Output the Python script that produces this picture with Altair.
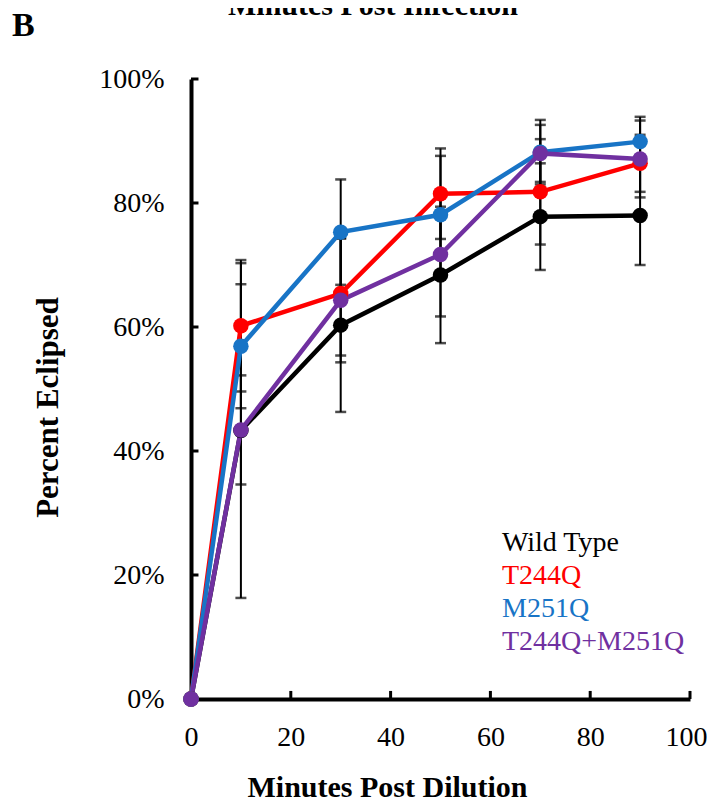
import altair as alt
import pandas as pd

# ---- data ----
minutes = [0, 10, 30, 50, 70, 90]
series_names = ["Wild Type", "T244Q", "M251Q", "T244Q+M251Q"]
series_colors = ["#000000", "#FF0000", "#1874C6", "#7030A0"]

wild_type = [0, 43.3, 60.3, 68.4, 77.8, 78.0]
wild_type_err = [0, 27.0, 14.0, 11.0, 8.6, 8.0]
t244q = [0, 60.2, 65.4, 81.5, 81.8, 86.4]
t244q_err = [0, 10.6, 10.0, 7.3, 8.5, 4.6]
m251q = [0, 56.9, 75.3, 78.1, 88.2, 89.9]
m251q_err = [0, 10.0, 8.5, 9.5, 5.2, 4.0]
double_mut = [0, 43.4, 64.3, 71.7, 88.0, 87.1]
double_mut_err = [0, 8.8, 10.0, 10.0, 4.6, 6.2]

x_ticks = [0, 20, 40, 60, 80, 100]
y_ticks = [0, 20, 40, 60, 80, 100]
inner_x_ticks = [20, 40, 60, 80, 100]
inner_y_ticks = [20, 40, 60, 80, 100]

title_text = "Minutes Post Infection"
panel_text = "B"

values = {"Wild Type": wild_type, "T244Q": t244q, "M251Q": m251q, "T244Q+M251Q": double_mut}
errors = {"Wild Type": wild_type_err, "T244Q": t244q_err, "M251Q": m251q_err, "T244Q+M251Q": double_mut_err}

rows = []
for order, name in enumerate(series_names):
    for m, v, e in zip(minutes, values[name], errors[name]):
        rows.append({"series": name, "order": order, "minutes": m, "pct": v,
                     "lo": v - e, "hi": v + e, "err": e})
df = pd.DataFrame(rows)
err_df = df[df["err"] > 0]
legend_df = pd.DataFrame({"series": series_names})

FONT = "Liberation Serif"

x_scale = alt.Scale(domain=[0, 100], nice=False, zero=False)
y_scale = alt.Scale(domain=[0, 100], nice=False, zero=False)

x_axis = alt.Axis(values=x_ticks, title="Minutes Post Dilution", grid=False,
                  ticks=False, tickSize=0, domainWidth=4, domainColor="black",
                  labelFont=FONT, labelFontSize=28, labelColor="black", labelPadding=24,
                  labelFlush=False,
                  labelOffset=alt.condition("datum.value == 100", alt.value(-4), alt.value(0)),
                  titleFont=FONT, titleFontSize=30, titleFontWeight="bold", titleColor="black",
                  titleX=196, titleY=97, titleBaseline="alphabetic", titleAlign="center")
y_axis = alt.Axis(values=y_ticks, title="Percent Eclipsed", grid=False,
                  ticks=False, tickSize=0, domainWidth=4, domainColor="black",
                  labelFont=FONT, labelFontSize=28, labelColor="black", labelPadding=27,
                  labelExpr="datum.value + '%'", labelFlush=False,
                  titleFont=FONT, titleFontSize=31, titleFontWeight="bold", titleColor="black",
                  titleX=-134, titleY=328, titleAngle=270, titleBaseline="alphabetic",
                  titleAlign="center")

color_scale = alt.Scale(domain=series_names, range=series_colors)
color_enc = alt.Color("series:N", scale=color_scale, legend=None)

X = alt.X("minutes:Q", scale=x_scale, axis=x_axis)
Y = alt.Y("pct:Q", scale=y_scale, axis=y_axis)

base = alt.Chart(df)

err_rules = alt.Chart(err_df).mark_rule(color="black", strokeWidth=2).encode(
    x=X, y=alt.Y("lo:Q", scale=y_scale, axis=y_axis), y2="hi:Q",
    detail="series:N")
err_lo = alt.Chart(err_df).mark_tick(color="black", orient="horizontal", size=11, thickness=2.5).encode(
    x=X, y=alt.Y("lo:Q", scale=y_scale, axis=y_axis), detail="series:N")
err_hi = alt.Chart(err_df).mark_tick(color="black", orient="horizontal", size=11, thickness=2.5).encode(
    x=X, y=alt.Y("hi:Q", scale=y_scale, axis=y_axis), detail="series:N")

lines = base.mark_line(strokeWidth=4.5).encode(
    x=X, y=Y, color=color_enc, order="minutes:Q")
points = base.mark_circle(size=240, opacity=1).encode(
    x=X, y=Y, color=color_enc, order="order:Q")

ytick_df = pd.DataFrame({"t": inner_y_ticks})
xtick_df = pd.DataFrame({"t": inner_x_ticks})
y_inner = alt.Chart(ytick_df).mark_rule(color="black", strokeWidth=3).encode(
    y=alt.Y("t:Q", scale=y_scale, axis=y_axis),
    x=alt.XDatum(0, scale=x_scale, axis=x_axis), x2=alt.X2Datum(1.5))
x_inner = alt.Chart(xtick_df).mark_rule(color="black", strokeWidth=3).encode(
    x=alt.X("t:Q", scale=x_scale, axis=x_axis),
    y=alt.YDatum(0, scale=y_scale, axis=y_axis), y2=alt.Y2Datum(1.3))

# legend drawn as coloured text (no symbols), one row per series
legend_text = alt.Chart(legend_df).mark_text(
    font=FONT, fontSize=28, align="left", baseline="alphabetic").encode(
    text="series:N", color=color_enc,
    x=alt.value(311), y=alt.value(455),
    yOffset=alt.YOffset("series:N", scale=alt.Scale(domain=series_names, range=[0, 133])))

panel = alt.Chart(pd.DataFrame({"label": [panel_text]})).mark_text(
    font=FONT, fontSize=34, fontWeight="bold", color="black", align="left",
    baseline="alphabetic").encode(text="label:N", x=alt.value(-179), y=alt.value(-43))

top_title = alt.Chart(pd.DataFrame({"label": [title_text]})).mark_text(
    font=FONT, fontSize=30, fontWeight="bold", color="black", align="center",
    baseline="alphabetic").encode(text="label:N", x=alt.value(182), y=alt.value(-64))

chart = alt.layer(err_rules, err_lo, err_hi, lines, points, y_inner, x_inner,
                  legend_text, panel, top_title).properties(
    width=499, height=620,
    autosize=alt.AutoSizeParams(type="none"),
    padding={"left": 183, "top": 71, "right": 17, "bottom": 104},
).configure(background="white").configure_view(stroke=None)

chart.save("out.html", embed_options={"renderer": "svg", "actions": False})
